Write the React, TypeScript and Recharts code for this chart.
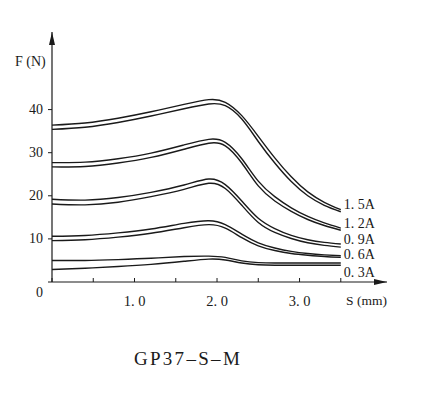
import React from "react";
import { LineChart, Line, XAxis, YAxis, ReferenceDot } from "recharts";

// S (mm) sample positions
const sValues = [0, 0.4, 0.8, 1.2, 1.6, 1.9, 2.1, 2.3, 2.5, 2.7, 2.9, 3.1, 3.3, 3.5];

// each current is drawn as a pair of lines (upper / lower)
const upper15 = [36.4, 36.9, 38.0, 39.5, 41.2, 42.3, 41.7, 38.6, 33.8, 28.8, 24.4, 20.9, 18.5, 16.8];
const lower15 = [35.4, 35.9, 37.0, 38.5, 40.2, 41.3, 40.9, 37.8, 32.6, 27.6, 23.3, 20.0, 17.8, 16.3];
const upper12 = [27.7, 27.8, 28.6, 29.9, 31.8, 33.1, 32.4, 28.6, 23.4, 19.8, 17.2, 15.2, 13.7, 12.5];
const lower12 = [26.7, 26.8, 27.6, 28.9, 30.8, 32.2, 31.6, 27.6, 22.3, 18.8, 16.4, 14.5, 13.1, 12.0];
const upper09 = [19.2, 19.0, 19.6, 20.8, 22.5, 23.9, 22.6, 18.8, 14.8, 12.4, 10.8, 9.8, 9.2, 8.8];
const lower09 = [18.1, 17.9, 18.5, 19.8, 21.5, 22.9, 21.7, 17.8, 13.8, 11.5, 10.1, 9.1, 8.5, 8.1];
const upper06 = [10.6, 10.8, 11.4, 12.3, 13.6, 14.2, 13.3, 11.1, 9.1, 7.9, 7.1, 6.6, 6.3, 6.1];
const lower06 = [9.6, 9.8, 10.4, 11.3, 12.6, 13.3, 12.5, 10.3, 8.4, 7.3, 6.6, 6.2, 5.9, 5.7];
const upper03 = [5.0, 5.0, 5.2, 5.5, 5.9, 6.0, 5.7, 4.9, 4.5, 4.4, 4.4, 4.4, 4.4, 4.4];
const lower03 = [2.9, 3.2, 3.6, 4.1, 4.8, 5.3, 5.1, 4.4, 4.0, 3.9, 3.9, 3.9, 3.9, 3.9];

const currentLabels = ["1. 5A", "1. 2A", "0. 9A", "0. 6A", "0. 3A"];
const labelLevels = [18.2, 13.6, 9.9, 6.5, 2.2];

const xTicks = [0, 0.5, 1, 1.5, 2, 2.5, 3, 3.5];
const yTicks = [0, 10, 20, 30, 40];

const series = [
  { key: "u15", values: upper15 },
  { key: "l15", values: lower15 },
  { key: "u12", values: upper12 },
  { key: "l12", values: lower12 },
  { key: "u09", values: upper09 },
  { key: "l09", values: lower09 },
  { key: "u06", values: upper06 },
  { key: "l06", values: lower06 },
  { key: "u03", values: upper03 },
  { key: "l03", values: lower03 },
];

const rows = sValues.map((s, i) => {
  const row: any = { s };
  series.forEach((sr) => (row[sr.key] = sr.values[i]));
  return row;
});

const FONT = "'Liberation Serif', 'DejaVu Serif', serif";
const INK = "#1a1a1a";

const YTick = (props: any) => {
  const { x, y, payload } = props;
  return (
    <text
      x={x}
      y={payload.value === 0 ? y + 10 : y}
      textAnchor="end"
      dominantBaseline="central"
      fontFamily={FONT}
      fontSize={14}
      fill={INK}
    >
      {payload.value}
    </text>
  );
};

const fmtX = (v: number) =>
  Number.isInteger(v) && v > 0 ? v.toFixed(1).replace(".", ". ") : "";

export default function App() {
  return (
    <div
      style={{
        position: "absolute",
        left: 0,
        top: 0,
        width: 435,
        height: 399,
        background: "#fff",
        fontFamily: FONT,
        color: INK,
      }}
    >
      <LineChart
        width={435}
        height={399}
        data={rows}
        margin={{ top: 32, right: 48, bottom: 87, left: 0 }}
      >
        <XAxis
          type="number"
          dataKey="s"
          domain={[0, 4.06]}
          ticks={xTicks}
          allowDataOverflow
          tickFormatter={fmtX}
          tickSize={-4}
          tickMargin={18}
          height={30}
          axisLine={{ stroke: INK, strokeWidth: 1.2 }}
          tickLine={{ stroke: INK, strokeWidth: 1 }}
          tick={{ fontFamily: FONT, fontSize: 14.5, fill: INK }}
        />
        <YAxis
          type="number"
          domain={[0, 58]}
          ticks={yTicks}
          allowDataOverflow
          width={52}
          tickSize={4}
          tickMargin={5}
          axisLine={{ stroke: INK, strokeWidth: 1.2 }}
          tickLine={{ stroke: INK, strokeWidth: 1 }}
          tick={<YTick />}
        />
        {series.map((sr) => (
          <Line
            key={sr.key}
            dataKey={sr.key}
            type="natural"
            stroke={INK}
            strokeWidth={1.4}
            dot={false}
            activeDot={false}
            isAnimationActive={false}
          />
        ))}
        {currentLabels.map((lab, i) => (
          <ReferenceDot
            key={lab}
            x={3.5}
            y={labelLevels[i]}
            r={0}
            fill="none"
            stroke="none"
            ifOverflow="visible"
            label={{
              value: lab,
              position: "right",
              offset: 3,
              fill: INK,
              fontFamily: FONT,
              fontSize: 14,
            }}
          />
        ))}
        <ReferenceDot
          x={4.06}
          y={0}
          r={0}
          ifOverflow="visible"
          shape={(p: any) => (
            <path d={`M${p.cx},${p.cy} l-13,-3 l0,6 z`} fill={INK} />
          )}
        />
        <ReferenceDot
          x={0}
          y={58}
          r={0}
          ifOverflow="visible"
          shape={(p: any) => (
            <path d={`M${p.cx},${p.cy} l-3,13 l6,0 z`} fill={INK} />
          )}
        />
      </LineChart>
      <div
        style={{
          position: "absolute",
          left: 15,
          top: 55,
          fontSize: 14,
          lineHeight: "14px",
          whiteSpace: "nowrap",
        }}
      >
        F (N)
      </div>
      <div
        style={{
          position: "absolute",
          left: 346,
          top: 294,
          fontSize: 13.5,
          lineHeight: "14px",
          whiteSpace: "nowrap",
        }}
      >
        S (mm)
      </div>
      <div
        style={{
          position: "absolute",
          left: 87,
          top: 349,
          width: 202,
          textAlign: "center",
          fontSize: 19,
          lineHeight: "20px",
          letterSpacing: 2.3,
          whiteSpace: "nowrap",
        }}
      >
        GP37–S–M
      </div>
    </div>
  );
}
